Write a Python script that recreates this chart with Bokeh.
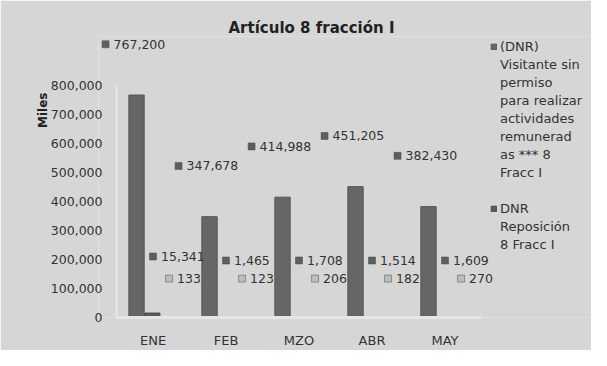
from bokeh.plotting import figure
from bokeh.models import (ColumnDataSource, Legend, LegendItem, Title,
                          FixedTicker, NumeralTickFormatter, Range1d)
from bokeh.transform import dodge
from bokeh.core.properties import value
from bokeh.embed import file_html
from bokeh.resources import INLINE

# ---- data ----
meses = ["ENE", "FEB", "MZO", "ABR", "MAY"]
visitante = [767200, 347678, 414988, 451205, 382430]
reposicion = [15341, 1465, 1708, 1514, 1609]
tercera = [133, 123, 206, 182, 270]
y_ticks = [0, 100000, 200000, 300000, 400000, 500000, 600000, 700000, 800000]
titulo = "Artículo 8 fracción I"
eje_y = "Miles"
serie1_lineas = ["(DNR)", "Visitante sin", "permiso", "para realizar", "actividades",
                 "remunerad", "as *** 8", "Fracc I"]
serie2_lineas = ["DNR", "Reposición", "8 Fracc I"]

FONT = "DejaVu Sans"
TXT = "#333333"

idx = list(range(len(meses)))
src = ColumnDataSource(dict(
    idx=idx, visitante=visitante, reposicion=reposicion, tercera=tercera,
    t_vis=[f"{v:,}" for v in visitante],
    t_rep=[f"{v:,}" for v in reposicion],
    t_ter=[f"{v:,}" for v in tercera],
))

# frame spans from just left of the category area to the right edge;
# categories use the middle part, the legend sits in the right part
p = figure(x_range=Range1d(-0.747, 6.007), y_range=Range1d(0, 969000),
           width=591, height=350, output_backend="svg", toolbar_location=None,
           min_border_left=98, min_border_right=0, min_border_top=36, min_border_bottom=31,
           background_fill_color="#d6d6d6", border_fill_color="#d6d6d6",
           outline_line_color=None)

p.title.text = titulo
p.title.align = "left"
p.title.offset = 130
p.title.standoff = 0
p.title.text_font = FONT
p.title.text_font_size = "15px"
p.title.text_font_style = "bold"
p.title.text_color = "#222222"

p.xgrid.visible = False
p.ygrid.visible = False

# back-wall edge of the plot area (left edge of the first category, up to the top tick)
p.segment(x0=[-0.5], y0=[y_ticks[0]], x1=[-0.5], y1=[y_ticks[-1]],
          line_color="#ececec", line_width=1.5)

# bars
r1 = p.vbar(x=dodge("idx", -0.226), top="visitante", width=0.21,
            source=src, fill_color="#666666", line_color="#555555")
r2 = p.vbar(x=dodge("idx", -0.01), top="reposicion", width=0.21,
            source=src, fill_color="#5a5a5a", line_color="#4f4f4f")
r3 = p.vbar(x=dodge("idx", 0.21), top="tercera", width=0.21,
            source=src, fill_color="#6e6e6e", line_color="#666666")

# data labels with small square keys
def data_labels(field, tfield, dx, dy, color):
    xs = dodge("idx", dx)
    ys = dodge(field, dy)
    p.scatter(x=xs, y=ys, marker="square", size=7, fill_color=color,
              line_color="#4a4a4a", line_width=0.5, source=src)
    p.text(x=xs, y=ys, text=tfield, x_offset=8, source=src,
           text_font=value(FONT), text_font_size="12.5px", text_color=TXT,
           text_align="left", text_baseline="middle")

data_labels("visitante", "t_vis", -0.65, 175000, "#5e5e5e")
data_labels("reposicion", "t_rep", 0.0, 195000, "#5e5e5e")
data_labels("tercera", "t_ter", 0.22, 134000, "#bdbdbd")

# axes
p.xaxis.ticker = FixedTicker(ticks=idx)
p.xaxis.major_label_overrides = {i: m for i, m in zip(idx, meses)}
p.xaxis.bounds = (-0.5, len(meses) - 0.5)
p.yaxis.ticker = FixedTicker(ticks=y_ticks)
p.yaxis.formatter = NumeralTickFormatter(format="0,0")
for ax in (p.xaxis[0], p.yaxis[0]):
    ax.major_tick_line_color = None
    ax.minor_tick_line_color = None
    ax.major_label_text_font = FONT
    ax.major_label_text_color = TXT
p.yaxis.major_label_text_font_size = "12.5px"
p.xaxis.major_label_text_font_size = "13px"
p.yaxis.axis_line_color = None
p.xaxis.axis_line_color = "#e6e6e6"
p.xaxis.axis_line_width = 3
p.yaxis.major_label_standoff = -10
p.xaxis.major_label_standoff = 9

# axis name at the upper part of the y axis
p.add_layout(Title(text=eje_y, align="right", offset=56, standoff=-5,
                   text_font=FONT, text_font_style="bold", text_font_size="12px",
                   text_color="#222222"), "left")

# legend: one item per text line, key square on the first line of each entry
items = []
for i, txt in enumerate(serie1_lineas):
    items.append(LegendItem(label=txt, renderers=[r1] if i == 0 else []))
items.append(LegendItem(label=" ", renderers=[]))
for i, txt in enumerate(serie2_lineas):
    items.append(LegendItem(label=txt, renderers=[r2] if i == 0 else []))

legend = Legend(items=items, location=(392, 64), label_text_font=FONT,
                label_text_font_size="13px", label_text_color=TXT,
                label_height=18, label_text_baseline="middle",
                glyph_width=7, glyph_height=7, label_standoff=3, spacing=0,
                padding=0, margin=0, border_line_color=None, background_fill_alpha=0)
p.add_layout(legend)

open("out.html", "w").write(file_html(p, INLINE))
